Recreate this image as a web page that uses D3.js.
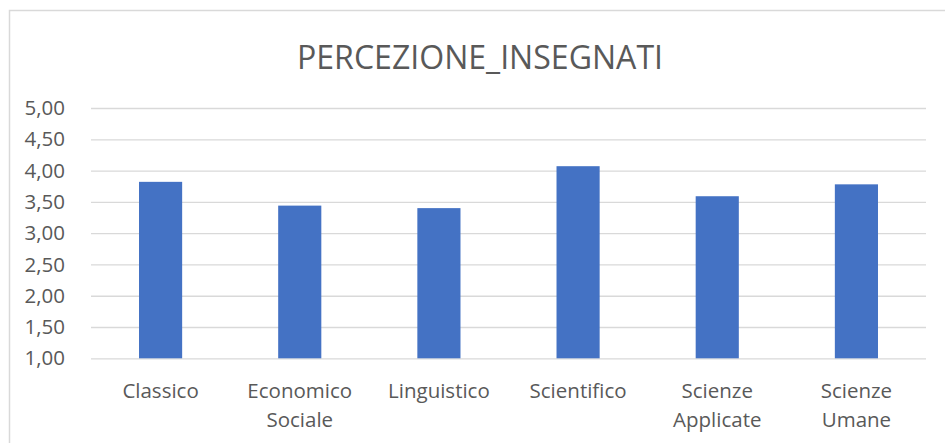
<!DOCTYPE html>
<html><head><meta charset="utf-8">
<script src="https://cdn.jsdelivr.net/npm/d3@7"></script>
<style>body{margin:0;background:#fff}svg{display:block}</style>
</head><body>
<script>
const title = "PERCEZIONE_INSEGNATI";
const categories = [["Classico"],["Economico","Sociale"],["Linguistico"],["Scientifico"],["Scienze","Applicate"],["Scienze","Umane"]];
const values = [3.82, 3.44, 3.40, 4.07, 3.59, 3.78];
const tickValues = [1,1.5,2,2.5,3,3.5,4,4.5,5];
const tickLabels = ["1,00","1,50","2,00","2,50","3,00","3,50","4,00","4,50","5,00"];

const W=945,H=443;
const svg=d3.select("body").append("svg").attr("width",W).attr("height",H);
svg.append("rect").attr("x",9.5).attr("y",10.5).attr("width",W).attr("height",H)
  .attr("fill","#fff").attr("stroke","#D9D9D9").attr("stroke-width",1.5);

const font="'Open Sans', sans-serif";
const x=d3.scaleBand().domain(categories.map((d,i)=>i)).range([91,926]).paddingInner(0.69).paddingOuter(0.345);
const y=d3.scaleLinear().domain([1,5]).range([358.3,108]);

svg.append("text").attr("x",480).attr("y",69).attr("text-anchor","middle")
  .attr("font-family",font).attr("font-size",32).attr("fill","#595959")
  .attr("textLength",366).attr("lengthAdjust","spacingAndGlyphs").text(title);

const gy=svg.append("g").attr("transform","translate(91,0)")
  .call(d3.axisLeft(y).tickValues(tickValues).tickFormat((d,i)=>tickLabels[i]).tickSize(-835).tickPadding(26));
gy.select(".domain").remove();
gy.selectAll(".tick line").attr("stroke","#D9D9D9").attr("stroke-width",1.3);
gy.selectAll(".tick text").attr("font-family",font).attr("font-size",20.5).attr("fill","#595959");

svg.append("g").selectAll("rect").data(values).join("rect")
  .attr("x",(d,i)=>x(i)).attr("width",x.bandwidth())
  .attr("y",d=>y(d)).attr("height",d=>y(1)-y(d)).attr("fill","#4472C4");

const gx=svg.append("g");
categories.forEach((lines,i)=>{
  const t=gx.append("text").attr("text-anchor","middle").attr("font-family",font)
    .attr("font-size",20.5).attr("fill","#595959");
  lines.forEach((l,j)=>t.append("tspan").attr("x",x(i)+x.bandwidth()/2).attr("y",398+j*29).text(l));
});
</script>
</body></html>
